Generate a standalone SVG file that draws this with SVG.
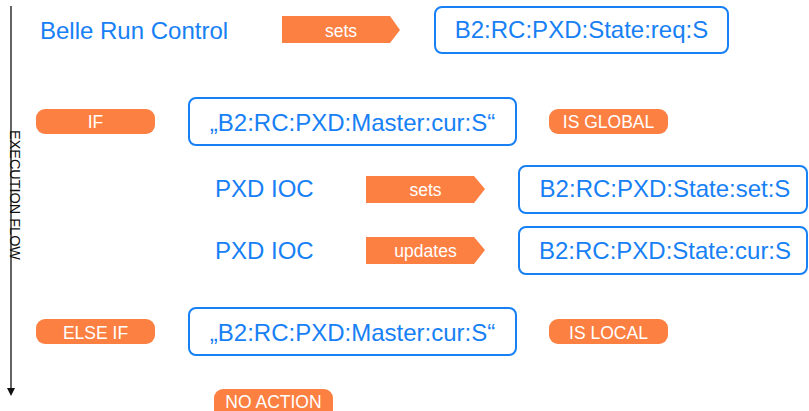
<svg xmlns="http://www.w3.org/2000/svg" width="809" height="411" viewBox="0 0 809 411">
<style>
.bt{font-family:"Liberation Sans",Arial,sans-serif;font-size:24px;fill:#1780f5}
.box{fill:#fff;stroke:#1780f5;stroke-width:2}
.or{fill:#fd8043}
.wt{font-family:"Liberation Sans",Arial,sans-serif;font-size:17.5px;fill:#fff;text-anchor:middle}
.mid{text-anchor:middle}
</style>
<rect width="809" height="411" fill="#fff"/>
<g id="flow">
<line x1="11" y1="6" x2="11" y2="389" stroke="#222" stroke-width="1.4"/>
<polygon points="7,388 15,388 11,396" fill="#111"/>
<text transform="translate(10,130) rotate(90)" font-family="Liberation Sans,Arial,sans-serif" font-size="14" fill="#111" textLength="130" lengthAdjust="spacingAndGlyphs">EXECUTION FLOW</text>
</g>
<g id="belle"><text class="bt" x="40" y="39">Belle Run Control</text></g>
<g id="connectors">
<g id="sets1"><polygon class="or" points="282,16 390,16 400,30 390,43 282,43"/><text class="wt" x="341" y="37">sets</text></g>
<g id="sets2"><polygon class="or" points="366,176 474,176 485,189 474,203 366,203"/><text class="wt" x="425.5" y="196">sets</text></g>
<g id="updates"><polygon class="or" points="366,237 474,237 485,250 474,264 366,264"/><text class="wt" x="425.5" y="257">updates</text></g>
</g>
<g id="req"><rect class="box" x="435" y="7" width="293" height="46" rx="7"/><text class="bt mid" x="581.5" y="38">B2:RC:PXD:State:req:S</text></g>
<g id="if"><rect class="or" x="36" y="109" width="119" height="25" rx="9"/><text class="wt" x="95.5" y="128">IF</text></g>
<g id="master1"><rect class="box" x="189" y="98" width="327" height="47" rx="7"/><text class="bt mid" x="352.5" y="131">„B2:RC:PXD:Master:cur:S“</text></g>
<g id="global"><rect class="or" x="549" y="109" width="119" height="25" rx="9"/><text class="wt" x="608.5" y="128">IS GLOBAL</text></g>
<g id="ioc1"><text class="bt" x="215" y="197">PXD IOC</text></g>
<g id="set"><rect class="box" x="519" y="166" width="288" height="47" rx="7"/><text class="bt mid" x="665" y="197">B2:RC:PXD:State:set:S</text></g>
<g id="ioc2"><text class="bt" x="215" y="259">PXD IOC</text></g>
<g id="cur"><rect class="box" x="519" y="227" width="288" height="47" rx="7"/><text class="bt mid" x="665" y="259">B2:RC:PXD:State:cur:S</text></g>
<g id="elseif"><rect class="or" x="36" y="319" width="119" height="25" rx="9"/><text class="wt" x="95.5" y="339">ELSE IF</text></g>
<g id="master2"><rect class="box" x="189" y="308" width="327" height="47" rx="7"/><text class="bt mid" x="352.5" y="341">„B2:RC:PXD:Master:cur:S“</text></g>
<g id="local"><rect class="or" x="549" y="319" width="119" height="25" rx="9"/><text class="wt" x="608.5" y="339">IS LOCAL</text></g>
<g id="noaction"><rect class="or" x="214" y="389" width="119" height="30" rx="9"/><text class="wt" x="273.5" y="408">NO ACTION</text></g>
</svg>
